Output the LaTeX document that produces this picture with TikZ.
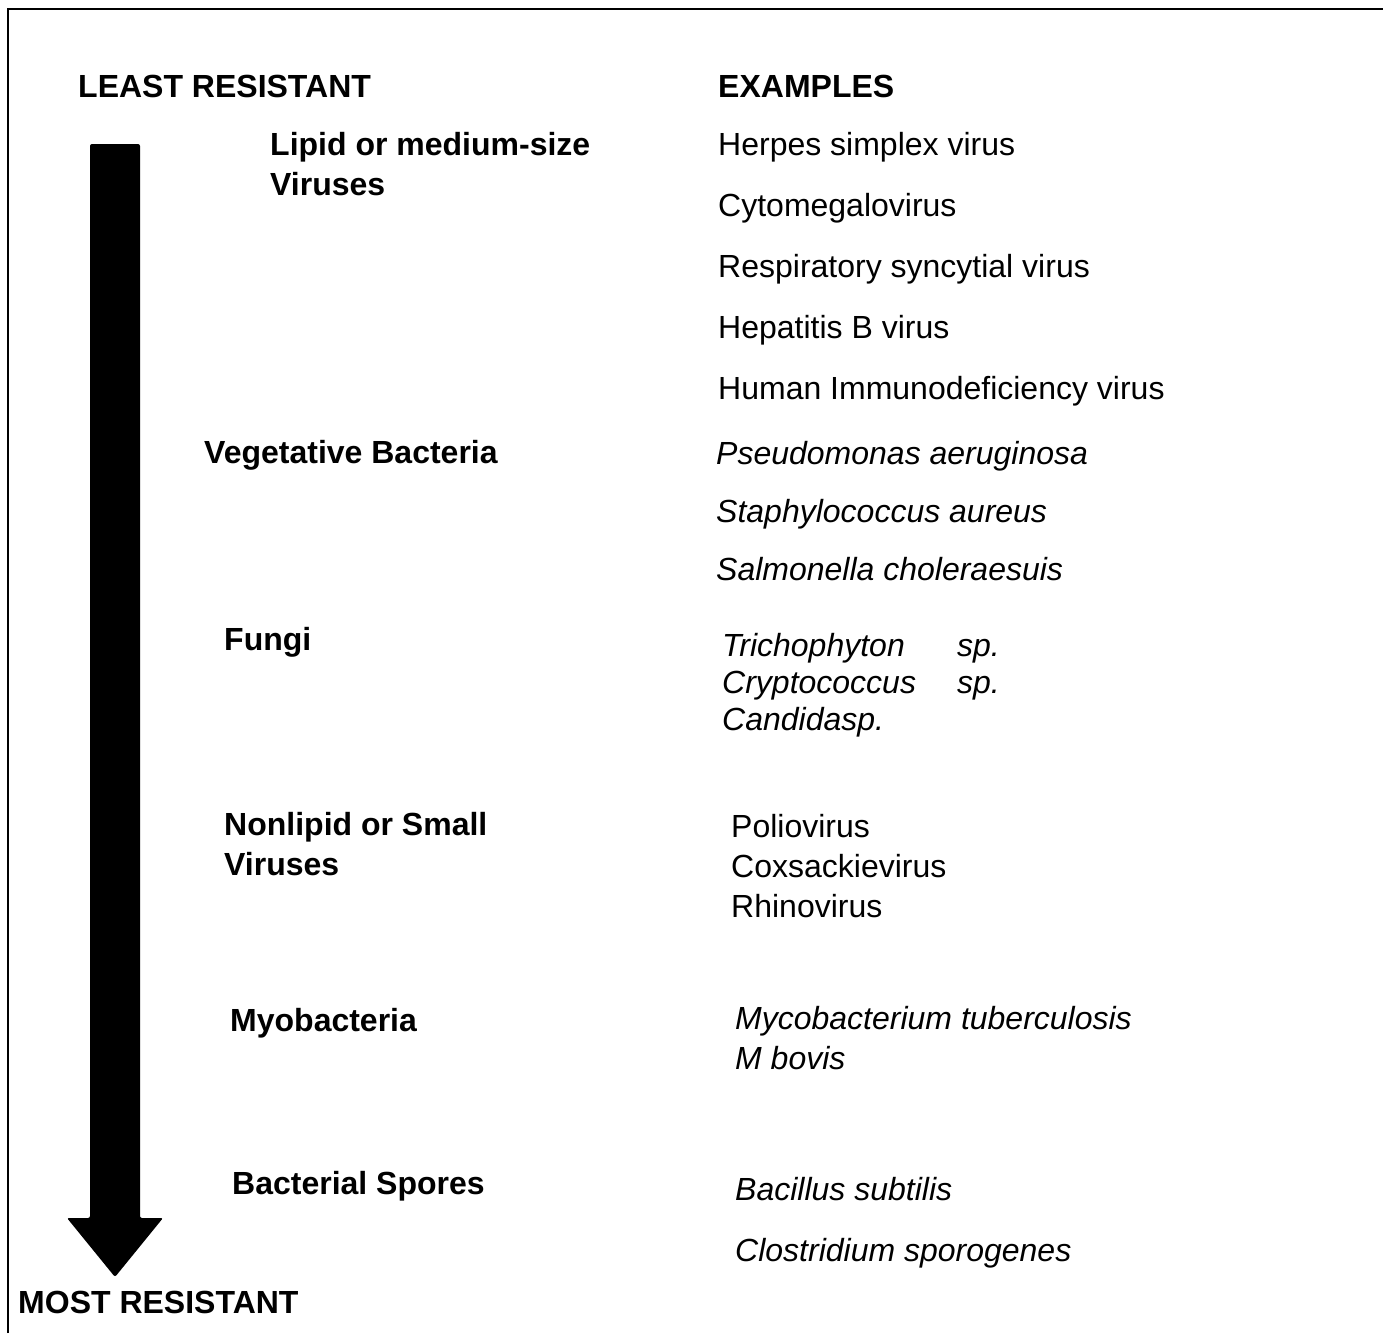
\documentclass[tikz,border=0pt]{standalone}
\usepackage{fontspec}
\setmainfont{Liberation Sans}
\tikzset{
  txt/.style={anchor=base west, inner sep=0pt, align=left,
    font=\fontsize{32}{40}\selectfont},
  grp/.style={txt, font=\fontsize{32}{40}\selectfont\bfseries},
  spec/.style={txt, font=\fontsize{32}{37}\selectfont\itshape},
}
\begin{document}
\begin{tikzpicture}[x=1pt,y=-1pt]
\useasboundingbox (0,0) rectangle (1383,1333);
% frame
\draw[line width=1.5pt] (8,1333) -- (8,9) -- (1383,9);
% the big arrow
\fill[rounded corners=2pt] (90,144) -- (140,144) -- (140,1218) -- (163,1218)
  -- (115,1277) -- (67,1218) -- (90,1218) -- cycle;
% headings
\node[grp] (least) at (78,97) {LEAST RESISTANT};
\node[grp] (most) at (18,1313) {MOST RESISTANT};
\node[grp] (examples) at (718,97) {EXAMPLES};
% groups (multi-line nodes sit on their last baseline)
\node[grp] (lipid) at (270,195) {Lipid or medium-size\\Viruses};
\node[grp] (veg) at (204,463) {Vegetative Bacteria};
\node[grp] (fungi) at (224,650) {Fungi};
\node[grp] (nonlipid) at (224,875) {Nonlipid or Small\\Viruses};
\node[grp] (myco) at (230,1031) {Myobacteria};
\node[grp] (spores) at (232,1194) {Bacterial Spores};
% examples
\foreach \y/\t [count=\i] in {155/Herpes simplex virus, 216/Cytomegalovirus,
  277/Respiratory syncytial virus, 338/Hepatitis B virus,
  399/Human Immunodeficiency virus}
  \node[txt] (vir\i) at (718,\y) {\t};
\foreach \y/\t [count=\i] in {464/Pseudomonas aeruginosa,
  522/Staphylococcus aureus, 580/Salmonella choleraesuis}
  \node[spec] (bac\i) at (716,\y) {\t};
\node[spec] (fun) at (722,730) {\makebox[235pt][l]{Trichophyton}sp.\\
  \makebox[235pt][l]{Cryptococcus}sp.\\Candidasp.};
\node[txt] (small) at (731,917) {Poliovirus\\Coxsackievirus\\Rhinovirus};
\node[spec] (tb) at (735,1069) {Mycobacterium tuberculosis\\[3pt]M bovis};
\node[spec] (bacil) at (735,1200) {Bacillus subtilis};
\node[spec] (clos) at (735,1261) {Clostridium sporogenes};
\end{tikzpicture}
\end{document}
